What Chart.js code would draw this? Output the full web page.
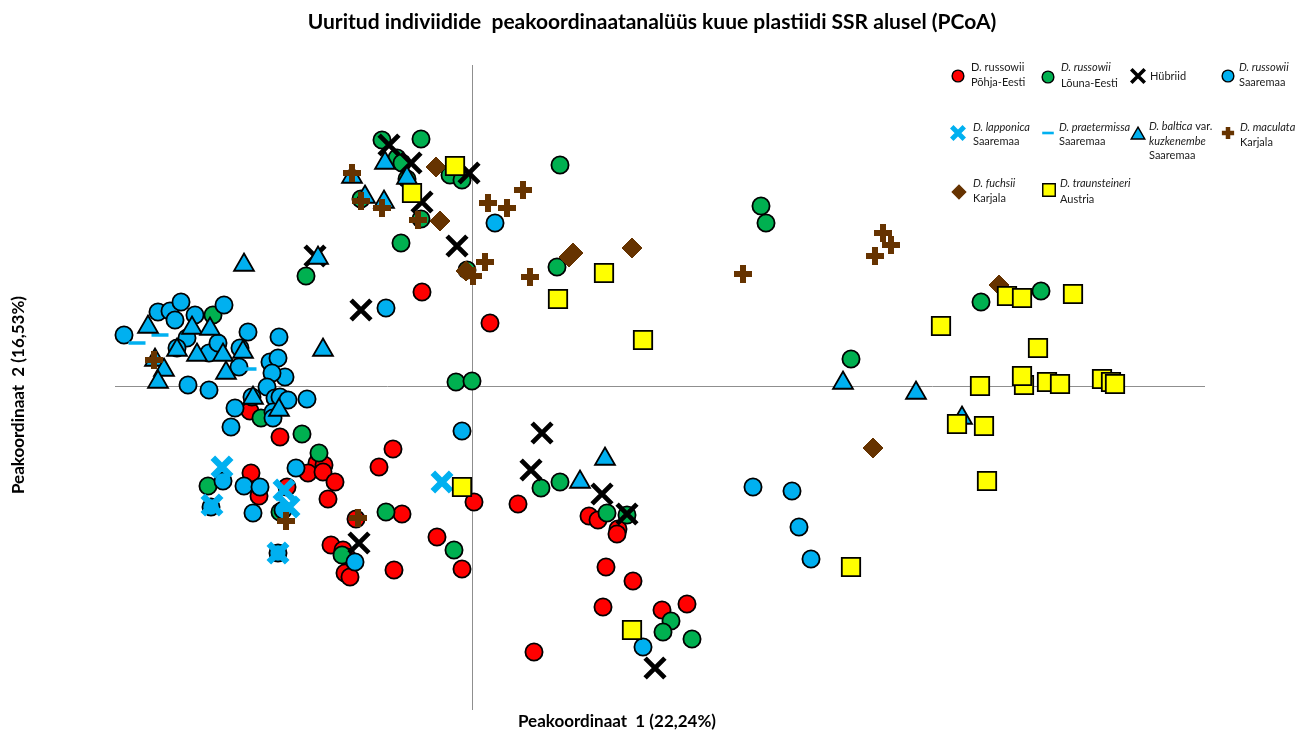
<!DOCTYPE html>
<html>
<head>
<meta charset="utf-8">
<title>PCoA</title>
<script src="https://cdn.jsdelivr.net/npm/chart.js@4.4.1/dist/chart.umd.min.js"></script>
<style>
  html, body { margin: 0; padding: 0; background: #ffffff; }
  #wrap { width: 1299px; height: 733px; position: relative; }
</style>
</head>
<body>
<div id="wrap"><canvas id="pcoa" width="1299" height="733"></canvas></div>
<script>
// PCoA coordinates [axis 1, axis 2] per group
const russowiiPohjaEesti = [
  [-0.50, 0.94], [0.18, 0.63], [0.02, -1.16], [0.46, -1.18], [-2.22, -0.25], [-1.92, -0.51],
  [-2.21, -0.87], [-2.13, -1.10], [-1.85, -1.01], [-1.55, -0.77], [-1.64, -0.87], [-1.48, -0.79],
  [-1.49, -0.86], [-1.37, -0.96], [-1.44, -1.13], [-0.79, -0.63], [-0.93, -0.81], [-1.16, -1.33],
  [-0.70, -1.28], [-1.41, -1.59], [-1.29, -1.64], [-1.25, -1.71], [-1.27, -1.87], [-1.22, -1.91],
  [-0.78, -1.84], [-0.35, -1.51], [-0.10, -1.83], [1.17, -1.30], [1.26, -1.34], [1.46, -1.43],
  [1.45, -1.48], [1.34, -1.81], [1.61, -1.95], [1.31, -2.21], [1.90, -2.24], [2.15, -2.18],
  [0.62, -2.66]
];
const russowiiLounaEesti = [
  [-1.66, 1.10], [-2.59, 0.71], [-0.90, 2.46], [-0.51, 2.47], [-0.75, 2.28], [-0.70, 2.23],
  [-0.65, 2.07], [-0.22, 2.11], [-0.10, 2.06], [-1.11, 1.87], [-0.51, 1.67], [-0.71, 1.43],
  [-0.05, 1.16], [0.88, 2.21], [0.85, 1.19], [-0.16, 0.04], [0.00, 0.05], [-2.11, -0.32],
  [-1.70, -0.48], [-1.53, -0.67], [-2.64, -1.00], [-1.92, -1.26], [-0.86, -1.26], [-1.30, -1.69],
  [-0.18, -1.64], [0.69, -1.02], [0.88, -0.96], [1.35, -1.27], [1.55, -1.29], [1.99, -2.35],
  [1.91, -2.46], [2.20, -2.53], [2.89, 1.80], [2.94, 1.63], [3.79, 0.27], [5.09, 0.84],
  [5.69, 0.95]
];
const hybrids = [
  [-0.83, 2.41], [-0.61, 2.23], [-0.03, 2.13], [-0.50, 1.84], [-0.15, 1.40], [-1.57, 1.30],
  [-1.11, 0.76], [0.70, -0.47], [0.59, -0.84], [1.30, -1.08], [1.55, -1.28], [-1.13, -1.57],
  [1.83, -2.82]
];
const russowiiSaaremaa = [
  [-3.48, 0.51], [-3.14, 0.74], [-3.02, 0.75], [-2.97, 0.66], [-2.91, 0.84], [-2.77, 0.71],
  [-2.48, 0.81], [-2.24, 0.54], [-1.93, 0.49], [-2.85, 0.48], [-2.95, 0.38], [-2.63, 0.33],
  [-2.54, 0.43], [-2.32, 0.38], [-2.33, 0.19], [-2.02, 0.24], [-1.94, 0.28], [-1.87, 0.09],
  [-2.00, 0.13], [-2.84, 0.01], [-2.63, -0.04], [-2.05, -0.01], [-2.37, -0.22], [-2.41, -0.41],
  [-1.97, -0.12], [-1.92, -0.11], [-1.84, -0.14], [-1.65, -0.13], [-1.99, -0.26], [-1.99, -0.32],
  [-2.20, -0.11], [-2.49, -0.95], [-2.61, -1.21], [-2.28, -1.00], [-2.12, -1.01], [-2.19, -1.27],
  [-1.89, -1.24], [-1.76, -0.82], [-1.94, -1.67], [-1.17, -1.76], [-0.86, 0.78], [0.23, 1.63],
  [-0.10, -0.45], [1.71, -2.61], [2.81, -1.01], [3.20, -1.05], [3.27, -1.41], [3.39, -1.73]
];
const lapponicaSaaremaa = [
  [-2.50, -0.81], [-2.60, -1.19], [-1.88, -1.04], [-1.83, -1.21], [-1.94, -1.67], [-0.30, -0.96]
];
const praetermissaSaaremaa = [
  [-3.35, 0.43], [-3.12, 0.51], [-2.24, 0.17]
];
const balticaSaaremaa = [
  [-2.28, 1.21], [-1.54, 1.28], [-3.24, 0.59], [-2.80, 0.58], [-2.62, 0.57], [-2.95, 0.36],
  [-2.75, 0.31], [-2.49, 0.31], [-2.29, 0.34], [-3.17, 0.26], [-3.08, 0.16], [-3.14, 0.04],
  [-2.46, 0.13], [-2.19, -0.12], [-1.93, -0.24], [-1.49, 0.36], [-0.87, 2.23], [-0.65, 2.08],
  [-1.20, 2.09], [-1.07, 1.89], [-0.88, 1.84], [1.08, -0.96], [1.33, -0.73], [3.71, 0.03],
  [4.44, -0.07], [4.90, -0.32]
];
const maculataKarjala = [
  [-3.18, 0.26], [-1.86, -1.35], [-1.14, -1.32], [-1.20, 2.13], [-1.11, 1.85], [-0.90, 1.78],
  [-0.54, 1.66], [0.01, 1.10], [0.13, 1.24], [0.58, 1.09], [0.16, 1.83], [0.35, 1.78],
  [0.51, 1.96], [2.71, 1.12], [4.11, 1.53], [4.19, 1.41], [4.03, 1.30]
];
const fuchsiiKarjala = [
  [-0.36, 2.19], [-0.32, 1.65], [-0.06, 1.15], [1.01, 1.33], [0.97, 1.29], [1.60, 1.38],
  [4.01, -0.62], [5.27, 1.01]
];
const traunsteineriAustria = [
  [-0.17, 2.20], [-0.60, 1.93], [1.32, 1.13], [0.86, 0.87], [1.71, 0.46], [-0.10, -1.01],
  [1.60, -2.44], [3.79, -1.81], [4.69, 0.60], [5.35, 0.90], [5.50, 0.88], [6.01, 0.92],
  [5.66, 0.38], [5.08, 0.00], [5.52, 0.01], [5.50, 0.10], [5.75, 0.04], [5.88, 0.02],
  [6.30, 0.07], [6.39, 0.04], [6.43, 0.02], [4.85, -0.38], [5.12, -0.40], [5.15, -0.95]
];

const chartTitle = 'Uuritud indiviidide  peakoordinaatanalüüs kuue plastiidi SSR alusel (PCoA)';
const axis1Title = 'Peakoordinaat  1 (22,24%)';
const axis2Title = 'Peakoordinaat  2 (16,53%)';

const RED = '#ff0000', GREEN = '#00b050', BLUE = '#00b0f0', YELLOW = '#ffff00', BROWN = '#663300';

// marker styles per group
const styles = {
  pohja:   { pointStyle: 'circle',   radius: 8.6,  fill: RED,    stroke: '#000', width: 1.8 },
  louna:   { pointStyle: 'circle',   radius: 8.6,  fill: GREEN,  stroke: '#000', width: 1.8 },
  hybrid:  { pointStyle: 'crossRot', radius: 14,   fill: '#000', stroke: '#000', width: 4.8 },
  saare:   { pointStyle: 'circle',   radius: 8.6,  fill: BLUE,   stroke: '#000', width: 1.8 },
  lappo:   { pointStyle: 'crossRot', radius: 13,   fill: BLUE,   stroke: BLUE,   width: 6.5 },
  praet:   { pointStyle: 'line',     radius: 8.5,  fill: BLUE,   stroke: BLUE,   width: 3.5 },
  baltica: { pointStyle: 'triangle', radius: 11.5, fill: BLUE,   stroke: '#000', width: 1.8 },
  macul:   { pointStyle: 'cross',    radius: 9,    fill: BROWN,  stroke: BROWN,  width: 6 },
  fuchs:   { pointStyle: 'rectRot',  radius: 10,   fill: BROWN,  stroke: BROWN,  width: 1 },
  traun:   { pointStyle: 'rect',     radius: 13,   fill: YELLOW, stroke: '#000', width: 1.8 }
};

const groups = [
  ['D. russowii Põhja-Eesti', russowiiPohjaEesti, styles.pohja],
  ['D. russowii Lõuna-Eesti', russowiiLounaEesti, styles.louna],
  ['Hübriid', hybrids, styles.hybrid],
  ['D. russowii Saaremaa', russowiiSaaremaa, styles.saare],
  ['D. lapponica Saaremaa', lapponicaSaaremaa, styles.lappo],
  ['D. praetermissa Saaremaa', praetermissaSaaremaa, styles.praet],
  ['D. baltica var. kuzkenembe Saaremaa', balticaSaaremaa, styles.baltica],
  ['D. maculata Karjala', maculataKarjala, styles.macul],
  ['D. fuchsii Karjala', fuchsiiKarjala, styles.fuchs],
  ['D. traunsteineri Austria', traunsteineriAustria, styles.traun]
];

const datasets = groups.map(([label, pts, s], i) => ({
  label,
  data: pts.map(([x, y]) => ({ x, y })),
  pointStyle: s.pointStyle,
  pointRadius: s.radius,
  pointHoverRadius: s.radius,
  backgroundColor: s.fill,
  borderColor: s.stroke,
  borderWidth: s.width,
  // later groups are painted above earlier ones
  order: groups.length - i
}));

// legend layout: marker centre, text column, and text lines (segments of [text, italic])
const legendItems = [
  { s: styles.pohja,   mx: 958,  my: 76,  tx: 971,  lines: [[['D. russowii', false]], [['Põhja-Eesti', false]]], ly: [67, 82] },
  { s: styles.louna,   mx: 1048, my: 77,  tx: 1061, lines: [[['D. russowii', true]], [['Lõuna-Eesti', false]]], ly: [67, 83] },
  { s: styles.hybrid,  mx: 1138, my: 76,  tx: 1150, lines: [[['Hübriid', false]]], ly: [76] },
  { s: styles.saare,   mx: 1228, my: 76,  tx: 1239, lines: [[['D. russowii', true]], [['Saaremaa', false]]], ly: [67, 82] },
  { s: styles.lappo,   mx: 958,  my: 133, tx: 973,  lines: [[['D. lapponica', true]], [['Saaremaa', false]]], ly: [127, 141] },
  { s: styles.praet,   mx: 1048, my: 133, tx: 1059, lines: [[['D. praetermissa', true]], [['Saaremaa', false]]], ly: [127, 141] },
  { s: styles.baltica, mx: 1138, my: 135, tx: 1149, lines: [[['D. baltica', true], [' var.', false]], [['kuzkenembe', true]], [['Saaremaa', false]]], ly: [126, 141, 155] },
  { s: styles.macul,   mx: 1228, my: 133, tx: 1240, lines: [[['D. maculata', true]], [['Karjala', false]]], ly: [127, 142] },
  { s: styles.fuchs,   mx: 959,  my: 192, tx: 973,  lines: [[['D. fuchsii', true]], [['Karjala', false]]], ly: [183, 198] },
  { s: styles.traun,   mx: 1049, my: 190, tx: 1060, lines: [[['D. traunsteineri', true]], [['Austria', false]]], ly: [183, 199] }
];

const FONT = 'Lato, "Open Sans", "Liberation Sans", sans-serif';

function legendMarker(ctx, s, x, y) {
  // legend markers are drawn smaller than the plotted points
  const k = 0.68;
  ctx.save();
  ctx.fillStyle = s.fill;
  ctx.strokeStyle = s.stroke;
  ctx.lineWidth = Math.max(1.2, s.width * (s.pointStyle === 'circle' || s.pointStyle === 'rect' || s.pointStyle === 'triangle' ? 0.8 : 0.75));
  Chart.helpers.drawPoint(ctx, { pointStyle: s.pointStyle, radius: s.radius * k, rotation: 0, borderWidth: ctx.lineWidth }, x, y);
  ctx.restore();
}

const decorations = {
  id: 'decorations',
  beforeDatasetsDraw(chart) {
    const { ctx, chartArea: a, scales } = chart;
    const x0 = Math.round(scales.x.getPixelForValue(0)) + 0.5;
    const y0 = Math.round(scales.y.getPixelForValue(0)) + 0.5;
    ctx.save();
    ctx.strokeStyle = '#8f8f8f';
    ctx.lineWidth = 1;
    ctx.beginPath();
    ctx.moveTo(a.left, y0); ctx.lineTo(a.right, y0);
    ctx.moveTo(x0, a.top); ctx.lineTo(x0, a.bottom);
    ctx.stroke();
    ctx.restore();
  },
  afterDraw(chart) {
    const { ctx } = chart;
    ctx.save();
    ctx.fillStyle = '#000';
    ctx.textBaseline = 'middle';
    ctx.textAlign = 'center';
    ctx.font = 'bold 21px ' + FONT;
    ctx.fillText(chartTitle, 652, 22);
    ctx.font = 'bold 17px ' + FONT;
    ctx.fillText(axis1Title, 617, 722);
    ctx.save();
    ctx.translate(19, 395);
    ctx.rotate(-Math.PI / 2);
    ctx.fillText(axis2Title, 0, 0);
    ctx.restore();

    ctx.textAlign = 'left';
    for (const it of legendItems) {
      legendMarker(ctx, it.s, it.mx, it.my);
      it.lines.forEach((segs, j) => {
        let x = it.tx;
        for (const [txt, ital] of segs) {
          ctx.font = (ital ? 'italic ' : '') + '11px ' + FONT;
          ctx.fillStyle = '#1a1a1a';
          ctx.fillText(txt, x, it.ly[j]);
          x += ctx.measureText(txt).width;
        }
      });
    }
    ctx.restore();
  }
};

new Chart(document.getElementById('pcoa'), {
  type: 'scatter',
  data: { datasets },
  options: {
    responsive: false,
    animation: false,
    events: [],
    layout: { padding: { left: 115, right: 94, top: 65, bottom: 23 } },
    scales: {
      x: { type: 'linear', min: -3.57, max: 7.33, display: false },
      y: { type: 'linear', min: -3.24, max: 3.21, display: false }
    },
    plugins: {
      legend: { display: false },
      title: { display: false },
      tooltip: { enabled: false }
    },
    elements: { point: { hitRadius: 0 } },
    clip: false
  },
  plugins: [decorations]
});
</script>
</body>
</html>
